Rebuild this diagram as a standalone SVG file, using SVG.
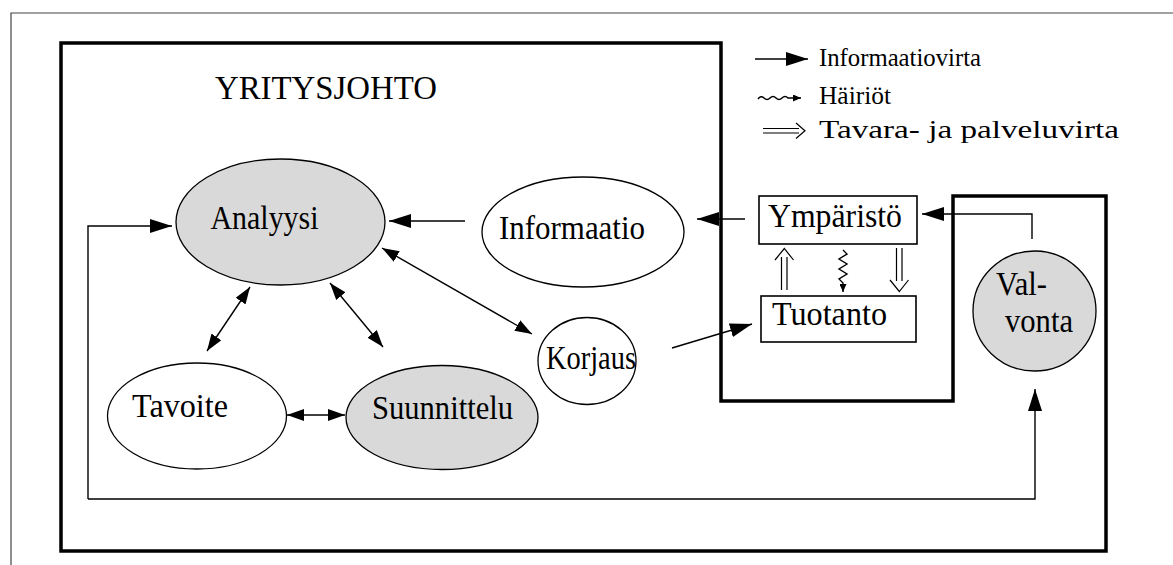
<svg xmlns="http://www.w3.org/2000/svg" width="1173" height="565" viewBox="0 0 1173 565">
<style>
  text { font-family: "Liberation Serif", "Times New Roman", serif; fill: #000; }
  .node { font-size: 33px; }
  .leg { font-size: 26px; }
  .ell { stroke: #000; stroke-width: 1.3; }
  .gray { fill: #d9d9d9; }
  .white { fill: #fff; }
  .conn { fill: none; stroke: #000; stroke-width: 1.4; }
  .box { fill: #fff; stroke: #000; stroke-width: 1.6; }
</style>
<defs>
  <marker id="big" markerUnits="userSpaceOnUse" markerWidth="22" markerHeight="14" refX="22" refY="7" orient="auto-start-reverse">
    <path d="M0,0 L22,7 L0,14 z" fill="#000"/>
  </marker>
  <marker id="mid" markerUnits="userSpaceOnUse" markerWidth="17" markerHeight="12" refX="17" refY="6" orient="auto-start-reverse">
    <path d="M0,0 L17,6 L0,12 z" fill="#000"/>
  </marker>
  <marker id="tiny" markerUnits="userSpaceOnUse" markerWidth="8" markerHeight="7" refX="8" refY="3.5" orient="auto">
    <path d="M0,0 L8,3.5 L0,7 z" fill="#000"/>
  </marker>
</defs>

<rect width="1173" height="565" fill="#fff"/>
<!-- outer frame -->
<path d="M11,565 L11,13 L1173,13" fill="none" stroke="#444" stroke-width="1.2"/>
<!-- thick boundary -->
<polygon points="61,43 721,43 721,401 953,401 953,196 1106,196 1106,551 61,551" fill="none" stroke="#000" stroke-width="3.5"/>

<text x="215" y="99" font-size="34" textLength="222" lengthAdjust="spacingAndGlyphs">YRITYSJOHTO</text>

<g id="connectors">
  <path class="conn" d="M88,499 L88,226 L172,226" marker-end="url(#big)"/>
  <path class="conn" d="M88,499 L1035,499 L1035,389" marker-end="url(#big)"/>
  <path class="conn" d="M1032,239 L1032,214 L922,214" marker-end="url(#big)"/>
  <path class="conn" d="M745,219 L697,219" marker-end="url(#big)"/>
  <path class="conn" d="M465,221 L389,221" marker-end="url(#big)"/>
  <path class="conn" d="M672,348 L752,324" marker-end="url(#big)"/>
  <path class="conn" d="M250,287 L207,351" marker-start="url(#mid)" marker-end="url(#mid)"/>
  <path class="conn" d="M330,283 L383,347" marker-start="url(#mid)" marker-end="url(#mid)"/>
  <path class="conn" d="M382,248 L532,334" marker-start="url(#mid)" marker-end="url(#mid)"/>
  <path class="conn" d="M287,415 L345,415" stroke-width="2" marker-start="url(#mid)" marker-end="url(#mid)"/>
  <!-- Tavara arrows -->
  <g fill="none" stroke="#000" stroke-width="1.2">
    <path d="M781.5,257 L781.5,290 M787,257 L787,290 M775,260 L784.3,248.5 L793.5,260"/>
    <path d="M896.5,248 L896.5,281 M902,248 L902,281 M890,280 L899.3,291.5 L908.5,280"/>
  </g>
  <!-- Häiriöt wavy -->
  <path d="M843,250 L847,254 L839,259 L847,264 L839,269 L847,274 L839,279 L843,283 L843,292" fill="none" stroke="#000" stroke-width="1.4" marker-end="url(#tiny)"/>
</g>

<g id="legend">
  <path d="M755,59 L808,59" fill="none" stroke="#000" stroke-width="1.4" marker-end="url(#big)"/>
  <text class="leg" x="819" y="66" textLength="162" lengthAdjust="spacingAndGlyphs">Informaatiovirta</text>
  <path d="M758,99 Q761,95 764,98 Q767,101 770,98 Q773,95 776,98 Q779,101 782,98 Q785,95 788,98 L801,98" fill="none" stroke="#000" stroke-width="1.5" marker-end="url(#tiny)"/>
  <text class="leg" x="819" y="104" textLength="72" lengthAdjust="spacingAndGlyphs">Häiriöt</text>
  <path d="M763,128.5 L799,128.5 M763,133 L799,133 M796,123 L805,130.7 L796,138.5" fill="none" stroke="#000" stroke-width="1.2"/>
  <text class="leg" x="819" y="138" textLength="300" lengthAdjust="spacingAndGlyphs">Tavara- ja palveluvirta</text>
</g>

<g id="analyysi">
  <ellipse class="ell gray" cx="280.5" cy="222" rx="104.5" ry="63"/>
  <text class="node" x="210.5" y="229" textLength="108" lengthAdjust="spacingAndGlyphs">Analyysi</text>
</g>
<g id="informaatio">
  <ellipse class="ell white" cx="583" cy="232" rx="101" ry="55"/>
  <text class="node" x="499" y="239" textLength="146" lengthAdjust="spacingAndGlyphs">Informaatio</text>
</g>
<g id="korjaus">
  <ellipse class="ell white" cx="587" cy="361" rx="49" ry="43.5"/>
  <text class="node" x="546" y="369" textLength="90" lengthAdjust="spacingAndGlyphs">Korjaus</text>
</g>
<g id="tavoite">
  <ellipse class="ell white" cx="197" cy="416" rx="89.5" ry="53"/>
  <text class="node" x="132" y="417" textLength="96" lengthAdjust="spacingAndGlyphs">Tavoite</text>
</g>
<g id="suunnittelu">
  <ellipse class="ell gray" cx="442" cy="417.5" rx="96" ry="52"/>
  <text class="node" x="372" y="419" textLength="141" lengthAdjust="spacingAndGlyphs">Suunnittelu</text>
</g>
<g id="valvonta">
  <ellipse class="ell gray" cx="1034.5" cy="311" rx="61.5" ry="60"/>
  <text class="node" x="996" y="295" textLength="51" lengthAdjust="spacingAndGlyphs">Val-</text>
  <text class="node" x="1005" y="332" textLength="68" lengthAdjust="spacingAndGlyphs">vonta</text>
</g>
<g id="ymparisto">
  <rect class="box" x="759" y="196" width="158" height="48"/>
  <text class="node" x="768" y="227" textLength="134" lengthAdjust="spacingAndGlyphs">Ympäristö</text>
</g>
<g id="tuotanto">
  <rect class="box" x="761" y="296" width="155" height="46"/>
  <text class="node" x="772" y="325" textLength="115" lengthAdjust="spacingAndGlyphs">Tuotanto</text>
</g>
</svg>
